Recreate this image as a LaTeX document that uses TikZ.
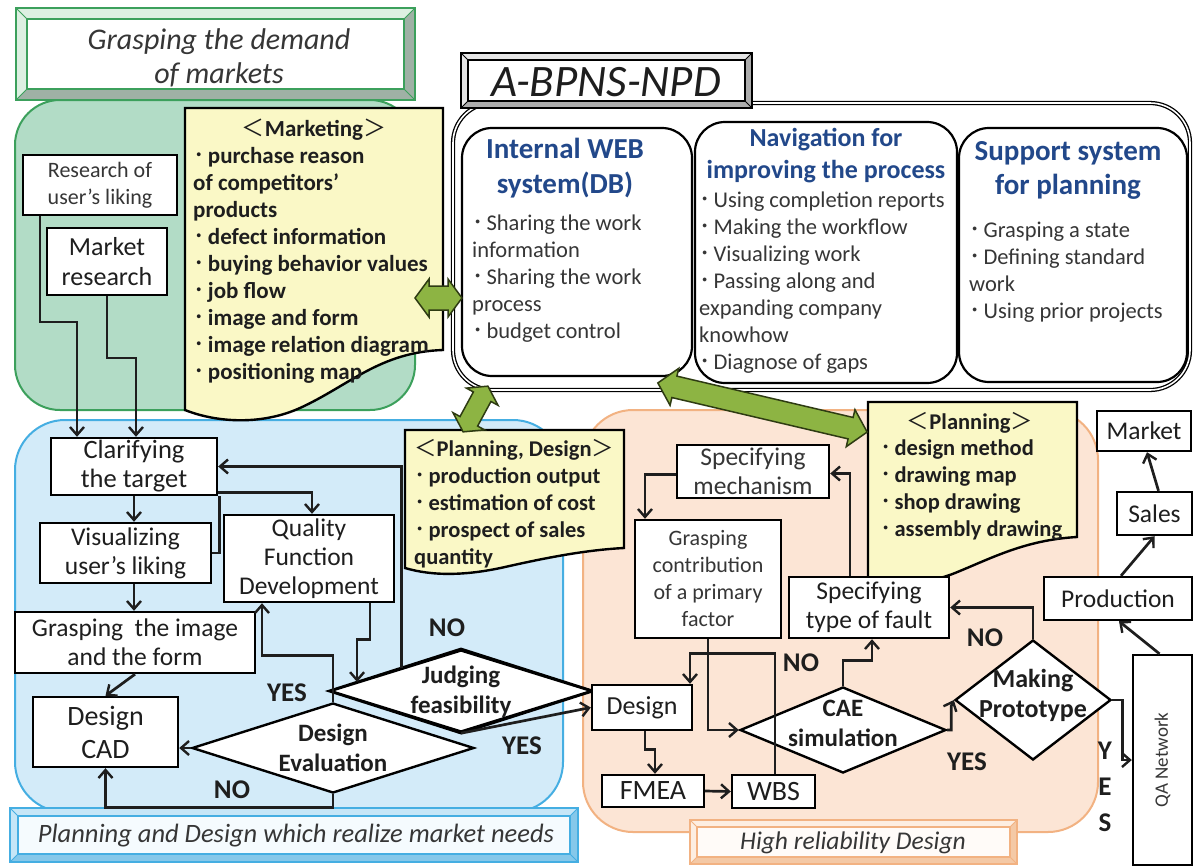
\documentclass[tikz,border=0pt]{standalone}
\usepackage{fontspec}
\usepackage{graphicx}
\setmainfont{Carlito}
\newfontfamily\jp{Noto Sans CJK JP}
\usetikzlibrary{arrows.meta,calc,shapes.geometric}

\newcommand\fs[2]{\fontsize{#1}{#2}\selectfont}
\newcommand\bdot{{\jp\mdseries ･}\kern0.14em}
\newcommand\openang{{\jp\mdseries ＜}}
\newcommand\closeang{{\jp\mdseries ＞}}

\definecolor{grnfill}{HTML}{B2DCC6}
\definecolor{grnline}{HTML}{3CA05C}
\definecolor{grntop}{HTML}{DDF0E2}
\definecolor{grnbev}{HTML}{9FB1A5}
\definecolor{bluefill}{HTML}{D3EBF9}
\definecolor{blueline}{HTML}{45AEE2}
\definecolor{bluetop}{HTML}{C6E6F7}
\definecolor{bluebev}{HTML}{86C8EA}
\definecolor{bluein}{HTML}{F5FBFE}
\definecolor{orgfill}{HTML}{FCE5D5}
\definecolor{orgline}{HTML}{F2B282}
\definecolor{orgtop}{HTML}{FDEEE2}
\definecolor{orgbev}{HTML}{F4C9A6}
\definecolor{orgin}{HTML}{FFFBF8}
\definecolor{notefill}{HTML}{FAF8C6}
\definecolor{arrfill}{HTML}{8DB443}
\definecolor{arrline}{HTML}{2E3B12}
\definecolor{navy}{HTML}{22488A}
\definecolor{ink}{HTML}{1E1E1E}
\definecolor{greytext}{HTML}{363636}

% framed title plate: x1 y1 x2 y2 inset border light-bevel dark-bevel inner-fill
\newcommand\bevel[9]{%
  \fill[#7] (#1,#2) rectangle (#3,#4);
  \fill[#8] (#3,#2) -- (#3,#4) -- (#1,#4) -- (#1+#5,#4-#5) -- (#3-#5,#4-#5) -- (#3-#5,#2+#5) -- cycle;
  \draw[#6,line width=2.5] (#1,#2) rectangle (#3,#4);
  \filldraw[fill=#9,draw=#6,line width=2] (#1+#5,#2+#5) rectangle (#3-#5,#4-#5);
  \draw[#6,line width=0.8] (#1,#2) -- (#1+#5,#2+#5) (#3,#2) -- (#3-#5,#2+#5)
     (#1,#4) -- (#1+#5,#4-#5) (#3,#4) -- (#3-#5,#4-#5);
}

% green two-headed block arrow: centre, angle, length, head width, shaft width, head length
\newcommand\greenarrow[6]{%
  \begin{scope}[shift={#1},rotate=#2]
    \filldraw[fill=arrfill,draw=arrline,line width=1.5,line join=miter]
      (-#3/2,0) -- (-#3/2+#6,#4/2) -- (-#3/2+#6,#5/2) -- (#3/2-#6,#5/2)
      -- (#3/2-#6,#4/2) -- (#3/2,0) -- (#3/2-#6,-#4/2) -- (#3/2-#6,-#5/2)
      -- (-#3/2+#6,-#5/2) -- (-#3/2+#6,-#4/2) -- cycle;
  \end{scope}}

\tikzset{
  box/.style={draw=black, line width=2.4, fill=white, inner sep=0.5, align=center,
              text=ink, font=\fs{25.5}{29}},
  dia/.style={diamond, draw=black, line width=2.4, fill=white, inner sep=0},
  dtext/.style={align=center, text=ink, font=\bfseries\fs{25}{30}, inner sep=0},
  lab/.style={text=ink, font=\bfseries\fs{27}{36}, inner sep=0, align=center},
  arr/.style={draw=ink, line width=2.7, -{Straight Barb[length=8pt,width=14pt,line width=2.4pt]}},
  link/.style={draw=ink, line width=2.7},
  note/.style={fill=notefill, draw=black, line width=2.4},
  body/.style={align=left, anchor=west, inner sep=0, text=greytext, font=\fs{22.5}{27}},
  nbody/.style={align=left, anchor=west, inner sep=0, text=ink, font=\bfseries\fs{23}{27}},
  head/.style={align=center, inner sep=0, text=navy, font=\bfseries\fs{29}{35}},
  ttl/.style={align=center, inner sep=0, text=greytext, font=\itshape\fs{25.5}{30}},
}

\begin{document}
\begin{tikzpicture}[x=1pt,y=-1pt]
\useasboundingbox (0,0) rectangle (1194,865);
\fill[white] (0,0) rectangle (1194,865);

% ---------- the three working areas ----------
\filldraw[fill=grnfill,draw=grnline,line width=2,rounded corners=45] (15,100) rectangle (415,410);
\filldraw[fill=bluefill,draw=blueline,line width=2,rounded corners=50] (15,420) rectangle (563,812);
\filldraw[fill=orgfill,draw=orgline,line width=2,rounded corners=50] (583,410) rectangle (1098,832);

% ---------- title plates ----------
\bevel{16}{8}{415}{100}{11}{grnline}{grntop}{grnbev}{white}
\node[ttl,font=\itshape\fs{30}{34}] (tmarket) at (219,58) {Grasping the demand\\of markets};

\bevel{10}{808}{578}{862}{8}{blueline}{bluetop}{bluebev}{bluein}
\node[ttl,font=\itshape\fs{26.5}{30}] (tplan) at (296,836) {Planning and Design which realize market needs};

\bevel{690}{820}{1017}{864}{7}{orgline}{orgtop}{orgbev}{orgin}
\node[ttl] (trel) at (853,843) {High reliability Design};

% ---------- A-BPNS-NPD system ----------
\draw[black,line width=1.3,double=white,double distance=1.6,rounded corners=40] (453,103) rectangle (1190,390);
\bevel{461}{53}{752}{108}{7}{black}{gray!20}{gray!65}{white}
\node[ttl,text=ink,font=\itshape\fs{45}{48}] (tsys) at (606,82) {A-BPNS-NPD};

\filldraw[fill=white,draw=black,line width=2.2,rounded corners=30] (462,128) rectangle (692,376);
\filldraw[fill=white,draw=black,line width=2.2,rounded corners=30] (695,122) rectangle (957,383);
\filldraw[fill=white,draw=black,line width=2.2,rounded corners=30] (959,128) rectangle (1187,382);

\node[head] (hweb) at (565,168) {Internal WEB\\system(DB)};
\node[body] (bweb) at (472,279) {\bdot Sharing the work\\information\\\bdot Sharing the work\\process\\\bdot budget control};
\node[head,font=\bfseries\fs{26}{32}] (hnav) at (826,156) {Navigation for\\improving the process};
\node[body] (bnav) at (699,282.5) {\bdot Using completion reports\\\bdot Making the workflow\\\bdot Visualizing work\\\bdot Passing along and\\expanding company\\knowhow\\\bdot Diagnose of gaps};
\node[head,font=\bfseries\fs{29}{34}] (hsup) at (1068,170) {Support system\\for planning};
\node[body] (bsup) at (969,272.5) {\bdot Grasping a state\\\bdot Defining standard\\work\\\bdot Using prior projects};

% ---------- notes ----------
\filldraw[note] (185,108) -- (443,108) -- (443,350)
  .. controls (380,352) and (350,385) .. (300,408)
  .. controls (260,426) and (215,422) .. (185,410) -- cycle;
\node[nbody,anchor=center] (hmk) at (314,130) {\openang Marketing\closeang};
\node[nbody] (bmk) at (193,265) {\bdot purchase reason\\of competitors’\\products\\\bdot defect information\\\bdot buying behavior values\\\bdot job flow\\\bdot image and form\\\bdot image relation diagram\\\bdot positioning map};

\filldraw[note] (405,430) -- (624,430) -- (624,548)
  .. controls (585,550) and (545,558) .. (505,567)
  .. controls (465,576) and (432,576) .. (405,568) -- cycle;
\node[nbody,font=\bfseries\fs{22.5}{27}] (bpd) at (414,503.5) {\openang Planning, Design\closeang\\\bdot production output\\\bdot estimation of cost\\\bdot prospect of sales\\quantity};

\filldraw[note] (868,402) -- (1077,402) -- (1077,537)
  .. controls (1025,540) and (992,558) .. (955,573)
  .. controls (925,585) and (893,585) .. (868,578) -- cycle;
\node[nbody,anchor=center,font=\bfseries\fs{22.5}{27}] (hpl) at (970,423) {\openang Planning\closeang};
\node[nbody,font=\bfseries\fs{22.5}{27}] (bpl) at (880,490) {\bdot design method\\\bdot drawing map\\\bdot shop drawing\\\bdot assembly drawing};

% ---------- green exchange arrows ----------
\greenarrow{(438.5,298)}{0}{47}{38}{24}{14}
\greenarrow{(475.5,409)}{61.5}{52}{36}{20}{12}
\greenarrow{(762.5,407.5)}{-13.2}{215}{38}{22}{17}

% ---------- market side ----------
\node[box,font=\fs{22}{27},text=greytext,minimum width=154,minimum height=60] (res) at (100,185) {Research of\\user’s liking};
\node[box,font=\fs{26}{30},minimum width=120,minimum height=67] (mkt) at (107,261.5) {Market\\research};

% ---------- planning and design ----------
\node[box,font=\fs{26.5}{29},minimum width=166,minimum height=57] (clar) at (134,466.5) {Clarifying\\the target};
\node[box,minimum width=171,minimum height=60] (vis) at (125.5,553) {Visualizing\\user’s liking};
\node[box,minimum width=170,minimum height=87] (qfd) at (309,558.5) {Quality\\Function\\Development};
\node[box,minimum width=240,minimum height=61] (gimg) at (135,642.5) {Grasping\ \ the image\\and the form};
\node[box,font=\fs{28}{33},minimum width=145,minimum height=70] (cad) at (105.5,732) {Design\\CAD};

\node[dia,minimum width=262,minimum height=82] (jf) at (461,691) {};
\node[dia,minimum width=282,minimum height=90] (de) at (333,748) {};
\draw[black,line width=2.4] (jf.north) -- (jf.east) -- (jf.south) -- (jf.west) -- cycle;
\node[dtext] (jft) at (461,692) {Judging\\feasibility};
\node[dtext] (det) at (333,748) {Design\\Evaluation};

% ---------- high reliability design ----------
\node[box,text=greytext,minimum width=152,minimum height=53] (mech) at (753,471.5) {Specifying\\mechanism};
\node[box,font=\fs{22}{27},text=greytext,minimum width=146,minimum height=118] (contrib) at (708,579) {Grasping\\contribution\\of a primary\\factor};
\node[box,minimum width=160,minimum height=61] (fault) at (869,607.5) {Specifying\\type of fault};
\node[box,font=\fs{26}{30},minimum width=100,minimum height=45] (des) at (642,707.5) {Design};
\node[dia,minimum width=206,minimum height=86] (cae) at (843,730) {};
\node[dtext] (caet) at (843,723) {CAE\\simulation};
\node[dia,minimum width=156,minimum height=120] (proto) at (1033,700) {};
\node[dtext,font=\bfseries\fs{26}{30}] (protot) at (1033,695) {Making\\Prototype};
\node[box,font=\fs{28}{30},minimum width=102,minimum height=32] (fmea) at (653,791) {FMEA};
\node[box,font=\fs{28}{30},minimum width=83,minimum height=33] (wbs) at (773.5,791.5) {WBS};

% ---------- release chain ----------
\node[box,minimum width=94,minimum height=40] (market) at (1144,431) {Market};
\node[box,minimum width=75,minimum height=43] (sales) at (1154.5,513.5) {Sales};
\node[box,minimum width=148,minimum height=43] (prod) at (1118,598.5) {Production};
\node[box,font=\fs{19}{22},text=greytext,minimum width=59,minimum height=210] (qa) at (1162.5,760) {\rotatebox{90}{QA Network}};

% ---------- connectors: market research ----------
\draw[arr] ([xshift=-60]res.south) |- (77,322) -- ([xshift=-57]clar.north);
\draw[arr] (mkt.south) |- (136,358) -- ([xshift=2]clar.north);

% ---------- connectors: planning and design ----------
\draw[arr] (clar.south) -- (vis.north -| clar.south);
\draw[arr] ([yshift=4]clar.south east) -| ([xshift=3]qfd.north);
\draw[link] (vis.east) -| ([xshift=1]clar.south east);
\draw[arr] (vis.south -| clar.south) -- (gimg.north -| clar.south);
\draw[arr] (gimg.south) -- (cad.north);
\draw[arr] ([xshift=61]qfd.south) -- ++(0,36) -| ($(jf.west)!0.214!(jf.north)$);
\draw[arr] ($(jf.west)!0.55!(jf.north)$) |- (clar.east);
\draw[arr] (de.north) -- ++(0,-46) -| ([xshift=-47]qfd.south);
\draw[arr] (de.west) -- (cad.east |- de.west);
\draw[arr] (de.south) -- ++(0,13) -| (cad.south);
\draw[arr] (jf.south) -- (des.west);

% ---------- connectors: high reliability design ----------
\draw[arr] ([yshift=-3]mech.west) -| ([xshift=-63]contrib.north);
\draw[arr] (contrib.south) |- (cae.west);
\draw[arr] ([xshift=1.5]wbs.north) -- ++(0,-120) -| ([xshift=48]des.north);
\draw[arr] ([xshift=3]des.south) -- ++(0,18) -| ([xshift=2]fmea.north);
\draw[arr] (fmea.east) -- (wbs.west);
\draw[arr] (cae.north) -- ++(0,-25) -| ([xshift=3]fault.south);
\draw[arr] (cae.east) -- ++(4,0) -- ++(0,-24) -- (proto.west);
\draw[arr] (proto.north) |- (fault.east);
\draw[arr] (proto.east) -- ++(10,0) |- (qa.west);
\draw[arr] ([xshift=-19]fault.north) |- ([yshift=-2]mech.east);

% ---------- connectors: release chain ----------
\draw[arr] ([xshift=-3]qa.north) -- ([xshift=1]prod.south);
\draw[arr] ([xshift=3]prod.north) -- (sales.south);
\draw[arr] ([xshift=4]sales.north) -- ([xshift=3]market.south);

% ---------- decision labels ----------
\node[lab] (lnoj) at (447,628) {NO};
\node[lab] (lyesq) at (287,693) {YES};
\node[lab] (lyesj) at (522,746) {YES};
\node[lab] (lnocad) at (232,790) {NO};
\node[lab] (lnocae) at (801,663) {NO};
\node[lab] (lnopro) at (985,638) {NO};
\node[lab] (lyescae) at (967,762) {YES};
\node[lab] (lyesqa) at (1105,787) {Y\\E\\S};
\end{tikzpicture}
\end{document}
